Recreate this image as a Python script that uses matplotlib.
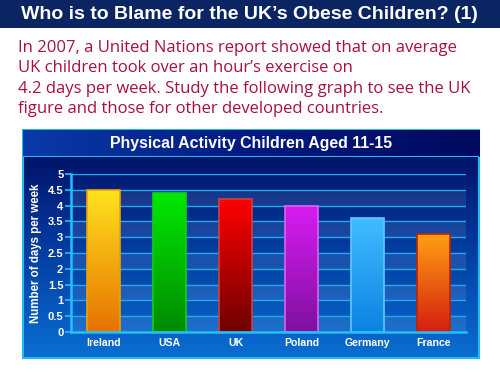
import numpy as np
import matplotlib
matplotlib.use("Agg")
import matplotlib.pyplot as plt
from matplotlib.colors import LinearSegmentedColormap
from matplotlib.patches import Rectangle

# ---- data ----
countries = ["Ireland", "USA", "UK", "Poland", "Germany", "France"]
days = [4.5, 4.4, 4.2, 4.0, 3.6, 3.1]
bar_top_colors = ["#ffe41e", "#00ea00", "#ff0000", "#d81cf2", "#42bcff", "#ffa012"]
bar_bottom_colors = ["#e67200", "#008a00", "#6e0000", "#7e10a0", "#0a82e2", "#d41e10"]
bar_edge_colors = ["#f0a000", "#10d010", "#d04040", "#e060f0", "#60c8ff", "#c02000"]
yticks = [0, 0.5, 1, 1.5, 2, 2.5, 3, 3.5, 4, 4.5, 5]
ytick_labels = ["0", "0.5", "1", "1.5", "2", "2.5", "3", "3.5", "4", "4.5", "5"]

main_title = "Who is to Blame for the UK\u2019s Obese Children? (1)"
body_lines = [
    "In 2007, a United Nations report showed that on average",
    "UK children took over an hour\u2019s exercise on",
    "4.2 days per week. Study the following graph to see the UK",
    "figure and those for other developed countries.",
]
chart_title = "Physical Activity Children Aged 11-15"
ylabel = "Number of days per week"

W, H = 500, 375
plt.rcParams["font.family"] = ["Liberation Sans", "DejaVu Sans"]
fig = plt.figure(figsize=(W / 100, H / 100), dpi=100)
fig.patch.set_facecolor("white")


def px_axes(x0, y0, x1, y1, **kw):
    return fig.add_axes([x0 / W, 1 - y1 / H, (x1 - x0) / W, (y1 - y0) / H], **kw)


# top title band
fig.patches.append(Rectangle((0, 1 - 28 / H), 1, 28 / H, transform=fig.transFigure,
                             facecolor="#0b2462", edgecolor="none", zorder=0))
fig.text(249 / W, 1 - 14.5 / H, main_title, color="white", fontsize=14,
         fontweight="bold", ha="center", va="center")

# body text
for i, line in enumerate(body_lines):
    fig.text(18 / W, 1 - (48 + i * 20.3) / H, line, color="#a8103c", fontsize=12,
             family=["Open Sans", "DejaVu Sans"], ha="left", va="center")

# chart panel background
pa = px_axes(23, 130, 479, 358)
pa.set_axis_off()
grad = np.linspace(0, 1, 256).reshape(-1, 1)
panel_cmap = LinearSegmentedColormap.from_list("panel", ["#00085a", "#033a9e", "#0a6ed2"])
pa.imshow(grad, aspect="auto", cmap=panel_cmap, extent=[0, 1, 0, 1], origin="upper")
pa.set_xlim(0, 1)
pa.set_ylim(0, 1)
pa.add_patch(Rectangle((0, 0), 1, 1, transform=pa.transAxes, fill=False,
                       edgecolor="#22b8f0", linewidth=1.5, clip_on=False))

# chart header band
ha_ = px_axes(23, 130, 479, 157)
ha_.set_axis_off()
hgrad = np.linspace(0, 1, 256).reshape(1, -1)
head_cmap = LinearSegmentedColormap.from_list("head", ["#0a3aa8", "#021a80", "#000a5e"])
ha_.imshow(hgrad, aspect="auto", cmap=head_cmap, extent=[0, 1, 0, 1])
ha_.set_xlim(0, 1)
ha_.set_ylim(0, 1)
ha_.axhline(0, color="#22b8f0", linewidth=1.5)
ha_.text(0.5, 0.5, chart_title, color="white", fontsize=11.4, fontweight="bold",
         ha="center", va="center", transform=ha_.transAxes)

# main plot axes
ax = px_axes(71, 174, 466, 332)
ax.set_facecolor("none")
x = np.arange(len(countries))

for k in np.arange(0, 5, 1.0):
    ax.axhspan(k, k + 0.5, color="white", alpha=0.09, linewidth=0, zorder=0.5)
for t in yticks[1:]:
    ax.axhline(t, color="#26a8ea", linewidth=1.0, zorder=1)

bars = ax.bar(x, days, width=0.5, facecolor="none", zorder=3, linewidth=1.2)
for b, top, bot, ec in zip(bars, bar_top_colors, bar_bottom_colors, bar_edge_colors):
    b.set_edgecolor(ec)
    cm = LinearSegmentedColormap.from_list("b", [top, bot])
    bx, bw, bh = b.get_x(), b.get_width(), b.get_height()
    im = ax.imshow(grad, aspect="auto", cmap=cm, extent=[bx, bx + bw, 0, bh],
                   origin="upper", zorder=2.5)
    im.set_clip_path(b)

ax.set_xlim(-0.5, len(countries) - 0.5)
ax.set_ylim(0, 5)
ax.set_yticks(yticks)
ax.set_yticklabels(ytick_labels)
ax.set_xticks(x)
ax.set_xticklabels(countries)
for s in ["top", "right"]:
    ax.spines[s].set_visible(False)
for s in ["left", "bottom"]:
    ax.spines[s].set_color("#22c0ff")
    ax.spines[s].set_linewidth(1.8)
    ax.spines[s].set_zorder(4)
ax.tick_params(axis="y", colors="#22c0ff", length=4, width=1.2, direction="out",
               labelcolor="white", labelsize=8, pad=1.5)
ax.tick_params(axis="x", length=0, labelcolor="white", labelsize=7.6, pad=4)
for lab in ax.get_xticklabels() + ax.get_yticklabels():
    lab.set_fontweight("bold")
ax.set_ylabel(ylabel, color="white", fontsize=8.3, fontweight="bold", labelpad=4)

fig.savefig("out.png", dpi=100)
